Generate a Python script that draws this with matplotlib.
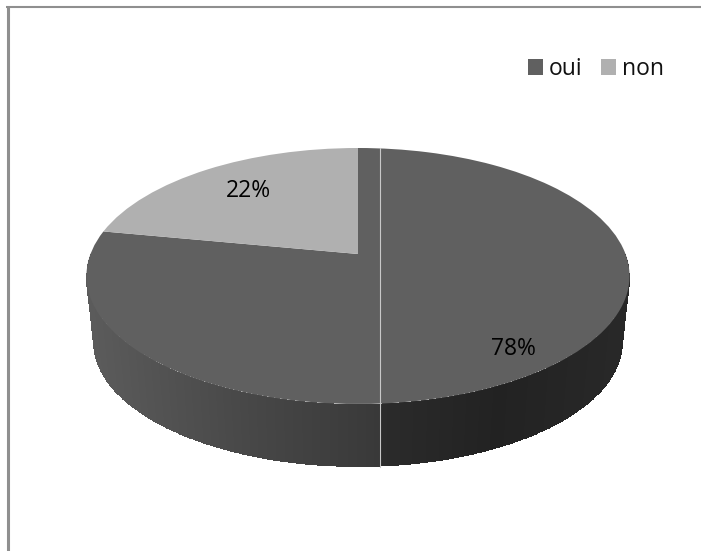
import numpy as np
import matplotlib
matplotlib.use("Agg")
import matplotlib.pyplot as plt
from matplotlib.transforms import Transform

# Données

labels = ["oui", "non"]
values = [78, 22]
pct_labels = ["78%", "22%"]
colors = ["#606060", "#b0b0b0"]

# Dégradé du flanc (gris selon x en pixels)

wall_x = [86, 250, 379, 381, 500, 629]
wall_gray = [0.36, 0.28, 0.225, 0.17, 0.135, 0.16]

plt.rcParams['font.family'] = ['Open Sans', 'DejaVu Sans']

CX = 358
TILT = 0.171875
RX = 267.5


# Perspective : cercle unité du camembert -> pixels de l'image
def project(x, y):
    w = 1 + TILT * y
    return CX + RX * x / w, 404 - 150 * (y + 1) / w


class Perspective(Transform):
    input_dims = 2
    output_dims = 2
    is_affine = False

    def transform_non_affine(self, values):
        pts = np.asarray(values, dtype=float)
        return np.column_stack(project(pts[:, 0], pts[:, 1]))


fig = plt.figure(figsize=(7.01, 5.51), dpi=100)
ax = fig.add_axes([0, 0, 1, 1])

wedges, _ = ax.pie(values, colors=colors, startangle=90, counterclock=False)
ax.set_aspect('auto')
ax.set_xlim(0, 701)
ax.set_ylim(551, 0)
ax.axis('off')

for w in wedges:
    w.set_transform(Perspective() + ax.transData)
    w.set_zorder(3)
    w.set_linewidth(0)

# Flanc du camembert

theta = np.radians(np.linspace(180, 360, 721))
top_x, top_y = project(np.cos(theta), np.sin(theta))
s = 0.972
low_x = CX + s * (top_x - CX)
low_y = 342.5 + s * (top_y - 276)
X = np.vstack([top_x, low_x])
Y = np.vstack([top_y, low_y])
mid_x = (top_x[:-1] + top_x[1:]) / 2
C = np.interp(mid_x, wall_x, wall_gray)[None, :]
ax.pcolormesh(X, Y, C, cmap='gray', vmin=0, vmax=1, shading='flat', zorder=2,
              antialiased=False, linewidth=0)

# Trait clair vertical

ax.plot([380, 380], [148, 467], color="#c8c8c8", lw=0.8, zorder=4)

# Cadre

ax.plot([7.5, 7.5], [6, 551], color="#8f8f8f", lw=2.2, zorder=1, solid_capstyle='butt')
ax.plot([6, 701], [7, 7], color="#8f8f8f", lw=1.5, zorder=1, solid_capstyle='butt')

# Etiquettes

ax.text(513, 349, pct_labels[0], fontsize=16.5, ha='center', va='center', color='black', zorder=5)
ax.text(248, 191, pct_labels[1], fontsize=16.5, ha='center', va='center', color='black', zorder=5)

# Légende

ax.legend(wedges, labels, ncol=2, frameon=False, fontsize=16.5,
          loc='center left', bbox_to_anchor=(528, 69), bbox_transform=ax.transData,
          borderaxespad=0, borderpad=0, handlelength=0.66, handleheight=0.66,
          handletextpad=0.26, columnspacing=0.8, labelcolor='#111111')

fig.savefig("out.png", dpi=100)
